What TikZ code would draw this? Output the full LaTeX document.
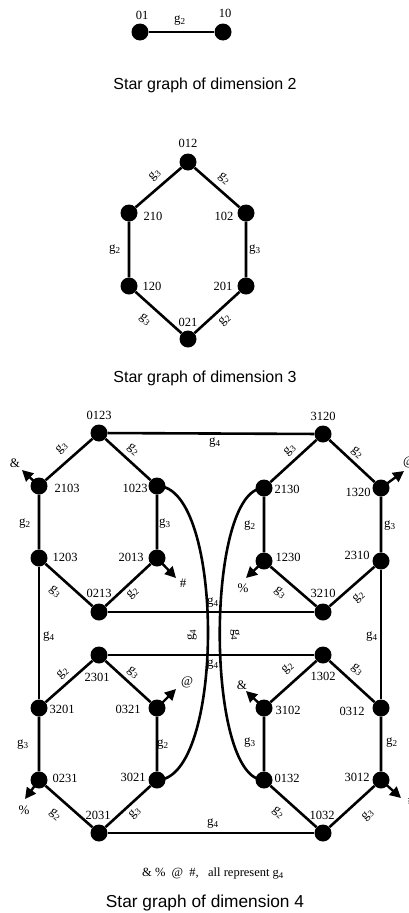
\documentclass[tikz,border=0pt]{standalone}
\usepackage{fontspec}
\setmainfont{Liberation Serif}
\newfontfamily\titlefont{Liberation Sans}
\usetikzlibrary{arrows.meta}
\newcommand\gsb[1]{g\textsubscript{#1}}
\begin{document}
\begin{tikzpicture}[x=1pt,y=-1pt,
  vtx/.style={circle,fill=black,inner sep=0pt,minimum size=17pt},
  edge/.style={line width=2.6pt},
  lbl/.style={font=\fontsize{12.5}{13}\selectfont, inner sep=0pt},
  glbl/.style={font=\fontsize{13}{13}\selectfont, inner sep=0pt},
  ttl/.style={font=\titlefont\fontsize{16}{18}\selectfont, inner sep=0pt},
  ext/.style={line width=2.4pt,-{Triangle[length=11pt,width=11pt]}},
]
\useasboundingbox (0,0) rectangle (409,913);

% ---------- dimension 2 ----------
\node[vtx] (d01) at (140,32) {};
\node[vtx] (d10) at (223,32) {};
\draw[edge] (d01) -- (d10);
\node[lbl] (l01) at (142,15) {01};
\node[lbl] (l10) at (225,13) {10};
\node[glbl] (e2a) at (180,21) {\gsb2};
\node[ttl] (t2) at (205,85) {Star graph of dimension 2};

% ---------- dimension 3 ----------
\node[vtx] (c012) at (188,162) {};
\node[vtx] (c210) at (129,213) {};
\node[vtx] (c102) at (246,213) {};
\node[vtx] (c120) at (129,286) {};
\node[vtx] (c201) at (246,286) {};
\node[vtx] (c021) at (188,339) {};
\draw[edge] (c012) -- (c210) -- (c120) -- (c021) -- (c201) -- (c102) -- (c012);
\node[lbl] (m012) at (188,143) {012};
\node[lbl] (m210) at (153,216) {210};
\node[lbl] (m102) at (224,216) {102};
\node[lbl] (m120) at (152,286) {120};
\node[lbl] (m201) at (223,286) {201};
\node[lbl] (m021) at (188,322) {021};
\node[glbl,rotate=41] (f1) at (155,175) {\gsb3};
\node[glbl,rotate=-41] (f2) at (224,179) {\gsb2};
\node[glbl] (f3) at (115,250) {\gsb2};
\node[glbl] (f4) at (255,250) {\gsb3};
\node[glbl,rotate=-41] (f5) at (145,320) {\gsb3};
\node[glbl,rotate=41] (f6) at (225,320) {\gsb2};
\node[ttl] (t3) at (205,378) {Star graph of dimension 3};

% ---------- dimension 4 ----------
% top-left
\node[vtx] (v0123) at (99,433) {};
\node[vtx] (v2103) at (39,486) {};
\node[vtx] (v1023) at (157,486) {};
\node[vtx] (v1203) at (39,558) {};
\node[vtx] (v2013) at (157,558) {};
\node[vtx] (v0213) at (99,612) {};
% top-right
\node[vtx] (v3120) at (323,434) {};
\node[vtx] (v2130) at (264,488) {};
\node[vtx] (v1320) at (381,488) {};
\node[vtx] (v1230) at (264,561) {};
\node[vtx] (v2310) at (381,561) {};
\node[vtx] (v3210) at (323,612) {};
% bottom-left
\node[vtx] (v2301) at (99,655) {};
\node[vtx] (v3201) at (39,708) {};
\node[vtx] (v0321) at (157,708) {};
\node[vtx] (v0231) at (39,780) {};
\node[vtx] (v3021) at (157,780) {};
\node[vtx] (v2031) at (99,833) {};
% bottom-right
\node[vtx] (v1302) at (323,655) {};
\node[vtx] (v3102) at (264,708) {};
\node[vtx] (v0312) at (381,708) {};
\node[vtx] (v0132) at (264,780) {};
\node[vtx] (v3012) at (381,780) {};
\node[vtx] (v1032) at (323,833) {};

% hexagon edges
\draw[edge] (v0123) -- (v2103) -- (v1203) -- (v0213) -- (v2013) -- (v1023) -- (v0123);
\draw[edge] (v3120) -- (v2130) -- (v1230) -- (v3210) -- (v2310) -- (v1320) -- (v3120);
\draw[edge] (v2301) -- (v3201) -- (v0231) -- (v2031) -- (v3021) -- (v0321) -- (v2301);
\draw[edge] (v1302) -- (v3102) -- (v0132) -- (v1032) -- (v3012) -- (v0312) -- (v1302);
% g4 edges
\draw[edge] (v0123) -- (v3120);
\draw[edge] (v0213) -- (v3210);
\draw[edge] (v2301) -- (v1302);
\draw[edge] (v2031) -- (v1032);
\draw[edge] (v1203) -- (v3201);
\draw[edge] (v2310) -- (v0312);
\draw[edge] (v1023.center) .. controls (225,485) and (225,780) .. (v3021.center);
\draw[edge] (v2130.center) .. controls (205,488) and (205,780) .. (v0132.center);

% external g4 arrows
\coordinate (a1) at (22,470);
\coordinate (a2) at (176,578);
\coordinate (a3) at (246,578);
\coordinate (a4) at (404,471);
\coordinate (a5) at (176,689);
\coordinate (a6) at (246,691);
\coordinate (a7) at (25,799);
\coordinate (a8) at (401,798);
\draw[ext] (v2103.center) -- (a1);
\draw[ext] (v2013.center) -- (a2);
\draw[ext] (v1230.center) -- (a3);
\draw[ext] (v1320.center) -- (a4);
\draw[ext] (v0321.center) -- (a5);
\draw[ext] (v3102.center) -- (a6);
\draw[ext] (v0231.center) -- (a7);
\draw[ext] (v3012.center) -- (a8);
\node[glbl] (s1) at (15,463) {\&};
\node[glbl] (s2) at (183,583) {\#};
\node[glbl] (s3) at (243,588) {\%};
\node[glbl] (s4) at (409,462) {@};
\node[glbl] (s5) at (187,682) {@};
\node[glbl] (s6) at (242,685) {\&};
\node[glbl] (s7) at (24,810) {\%};
\node[glbl] (s8) at (411,800) {\#};

% vertex labels
\node[lbl] (w0123) at (99,415) {0123};
\node[lbl] (w2103) at (67,488) {2103};
\node[lbl] (w1023) at (135,488) {1023};
\node[lbl] (w1203) at (65,557) {1203};
\node[lbl] (w2013) at (131,557) {2013};
\node[lbl] (w0213) at (99,593) {0213};
\node[lbl] (w3120) at (323,416) {3120};
\node[lbl] (w2130) at (287,489) {2130};
\node[lbl] (w1320) at (358,492) {1320};
\node[lbl] (w1230) at (288,557) {1230};
\node[lbl] (w2310) at (357,555) {2310};
\node[lbl] (w3210) at (323,593) {3210};
\node[lbl] (w2301) at (97,677) {2301};
\node[lbl] (w3201) at (62,709) {3201};
\node[lbl] (w0321) at (128,709) {0321};
\node[lbl] (w0231) at (65,778) {0231};
\node[lbl] (w3021) at (133,777) {3021};
\node[lbl] (w2031) at (98,815) {2031};
\node[lbl] (w1302) at (323,676) {1302};
\node[lbl] (w3102) at (288,710) {3102};
\node[lbl] (w0312) at (352,711) {0312};
\node[lbl] (w0132) at (287,778) {0132};
\node[lbl] (w3012) at (357,777) {3012};
\node[lbl] (w1032) at (322,815) {1032};

% edge labels
\node[glbl,rotate=41] (h1) at (62,448) {\gsb3};
\node[glbl,rotate=-41] (h2) at (133,450) {\gsb2};
\node[glbl] (h3) at (25,524) {\gsb2};
\node[glbl] (h4) at (165,524) {\gsb3};
\node[glbl,rotate=-41] (h5) at (55,592) {\gsb3};
\node[glbl,rotate=41] (h6) at (133,593) {\gsb2};
\node[glbl,rotate=41] (h7) at (290,450) {\gsb3};
\node[glbl,rotate=-41] (h8) at (357,453) {\gsb2};
\node[glbl] (h9) at (250,526) {\gsb2};
\node[glbl] (h10) at (390,526) {\gsb3};
\node[glbl,rotate=-41] (h11) at (280,593) {\gsb3};
\node[glbl,rotate=41] (h12) at (359,597) {\gsb2};
\node[glbl,rotate=41] (h13) at (63,673) {\gsb2};
\node[glbl,rotate=-41] (h14) at (133,673) {\gsb3};
\node[glbl] (h15) at (23,745) {\gsb3};
\node[glbl] (h16) at (163,745) {\gsb2};
\node[glbl,rotate=-41] (h17) at (55,815) {\gsb2};
\node[glbl,rotate=41] (h18) at (135,813) {\gsb3};
\node[glbl,rotate=41] (h19) at (288,668) {\gsb2};
\node[glbl,rotate=-41] (h20) at (357,670) {\gsb3};
\node[glbl] (h21) at (250,743) {\gsb3};
\node[glbl] (h22) at (392,743) {\gsb2};
\node[glbl,rotate=-41] (h23) at (278,813) {\gsb2};
\node[glbl,rotate=41] (h24) at (368,815) {\gsb3};
% g4 labels
\node[glbl] (k1) at (215,443) {\gsb4};
\node[glbl] (k2) at (213,603) {\gsb4};
\node[glbl] (k3) at (213,665) {\gsb4};
\node[glbl] (k4) at (213,824) {\gsb4};
\node[glbl] (k5) at (49,637) {\gsb4};
\node[glbl] (k6) at (372,637) {\gsb4};
\node[glbl,rotate=90] (k7) at (192,635) {\gsb4};
\node[glbl,rotate=-90] (k8) at (235,635) {\gsb4};

\node[font=\fontsize{12.5}{13}\selectfont, inner sep=0pt] (note) at (213,874) {\&~\%~~@~~\#,~~~all represent \gsb4};
\node[ttl,font=\titlefont\fontsize{17.3}{19}\selectfont] (t4) at (205,903) {Star graph of dimension 4};
\end{tikzpicture}
\end{document}
